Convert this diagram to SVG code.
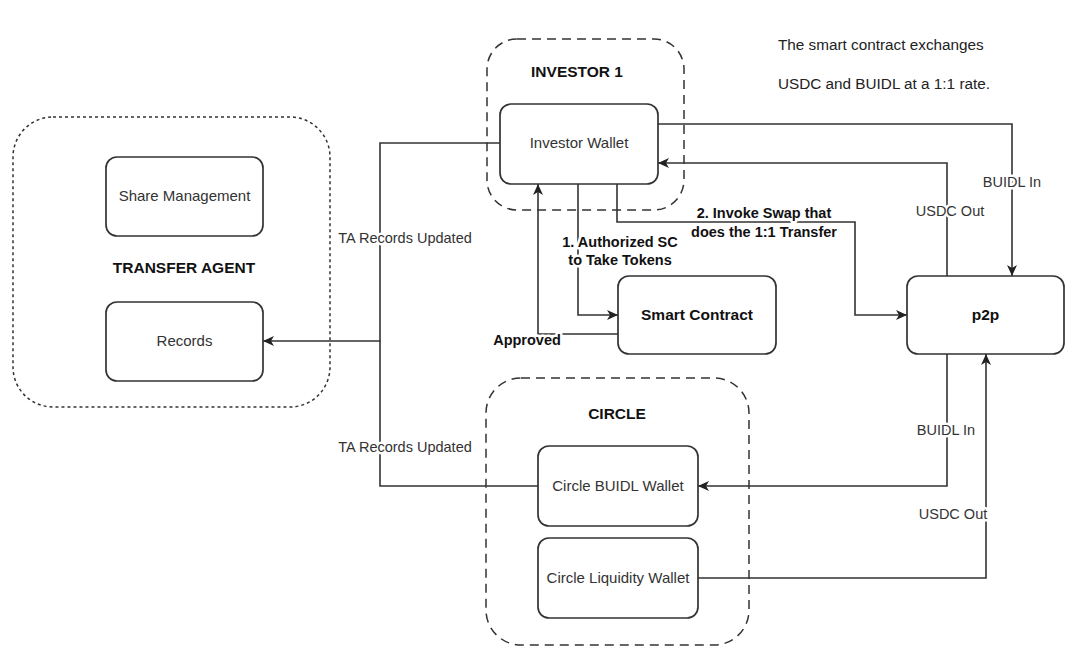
<svg xmlns="http://www.w3.org/2000/svg" width="1078" height="658" viewBox="0 0 1078 658">
<style>
.cont{fill:none;stroke:#333;stroke-width:1.5}
.dot{stroke-dasharray:3 3}
.dash{stroke-dasharray:9 6}
.box{fill:#fff;stroke:#333;stroke-width:1.7}
.t{font-family:"Liberation Sans",Arial,sans-serif;font-size:15px;fill:#333;text-anchor:middle}
.h{font-family:"Liberation Sans",Arial,sans-serif;font-size:15.5px;font-weight:bold;fill:#111;text-anchor:middle}
.e{fill:none;stroke:#333;stroke-width:1.6}
.lbl{font-family:"Liberation Sans",Arial,sans-serif;font-size:14.5px;fill:#333;text-anchor:middle;stroke:#fff;stroke-width:5;paint-order:stroke;stroke-linejoin:round}
.lb{font-family:"Liberation Sans",Arial,sans-serif;font-size:14.5px;font-weight:bold;fill:#111;text-anchor:middle;stroke:#fff;stroke-width:5;paint-order:stroke;stroke-linejoin:round}
.note{font-family:"Liberation Sans",Arial,sans-serif;font-size:15.3px;fill:#222}
</style>
<defs>
<marker id="arr" markerUnits="userSpaceOnUse" markerWidth="12" markerHeight="10" refX="11" refY="5" orient="auto">
<path d="M0,0 L11,5 L0,10 L3,5 z" fill="#222"/>
</marker>
</defs>

<g id="transfer-agent">
<rect class="cont dot" x="13" y="117" width="317" height="290" rx="40"/>
<text class="h" x="184" y="273">TRANSFER AGENT</text>
</g>
<g id="investor-1">
<rect class="cont dash" x="487" y="39" width="197" height="171" rx="30"/>
<text class="h" x="577" y="77">INVESTOR 1</text>
</g>
<g id="circle">
<rect class="cont dash" x="486" y="378" width="263" height="267" rx="35"/>
<text class="h" x="617" y="419">CIRCLE</text>
</g>

<g id="connectors">
<path class="e" d="M500,143 H380 V341 H263" marker-end="url(#arr)"/>
<path class="e" d="M538,486 H380 V341"/>
<path class="e" d="M578,184 V315 H618" marker-end="url(#arr)"/>
<path class="e" d="M618,334 H538 V184" marker-end="url(#arr)"/>
<path class="e" d="M617,184 V222 H855 V315 H907" marker-end="url(#arr)"/>
<path class="e" d="M658,124 H1012 V276" marker-end="url(#arr)"/>
<path class="e" d="M947,276 V163 H658" marker-end="url(#arr)"/>
<path class="e" d="M947,354 V486 H698" marker-end="url(#arr)"/>
<path class="e" d="M698,578 H986 V354" marker-end="url(#arr)"/>
<text class="lbl" x="405" y="243">TA Records Updated</text>
<text class="lbl" x="405" y="452">TA Records Updated</text>
<text class="lb" x="620" y="247">1. Authorized SC</text>
<text class="lb" x="620" y="265">to Take Tokens</text>
<text class="lb" x="527" y="345">Approved</text>
<text class="lb" x="764" y="218">2. Invoke Swap that</text>
<text class="lb" x="764" y="237">does the 1:1 Transfer</text>
<text class="lbl" x="1012" y="187">BUIDL In</text>
<text class="lbl" x="950" y="216">USDC Out</text>
<text class="lbl" x="946" y="435">BUIDL In</text>
<text class="lbl" x="953" y="519">USDC Out</text>
</g>

<g id="share-management">
<rect class="box" x="106" y="157" width="157" height="79" rx="11"/>
<text class="t" x="184.5" y="201">Share Management</text>
</g>
<g id="records">
<rect class="box" x="106" y="302" width="157" height="79" rx="11"/>
<text class="t" x="184.5" y="346">Records</text>
</g>
<g id="investor-wallet">
<rect class="box" x="500" y="104" width="158" height="80" rx="11"/>
<text class="t" x="579" y="148">Investor Wallet</text>
</g>
<g id="smart-contract">
<rect class="box" x="618" y="276" width="158" height="78" rx="11"/>
<text class="h" x="697" y="320">Smart Contract</text>
</g>
<g id="p2p">
<rect class="box" x="907" y="276" width="157" height="78" rx="11"/>
<text class="h" x="985.5" y="320">p2p</text>
</g>
<g id="circle-buidl-wallet">
<rect class="box" x="538" y="446" width="160" height="80" rx="11"/>
<text class="t" x="618" y="491">Circle BUIDL Wallet</text>
</g>
<g id="circle-liquidity-wallet">
<rect class="box" x="538" y="538" width="160" height="80" rx="11"/>
<text class="t" x="618" y="583">Circle Liquidity Wallet</text>
</g>
<g id="note">
<text class="note" x="778" y="50">The smart contract exchanges</text>
<text class="note" x="778" y="89">USDC and BUIDL at a 1:1 rate.</text>
</g>
</svg>
